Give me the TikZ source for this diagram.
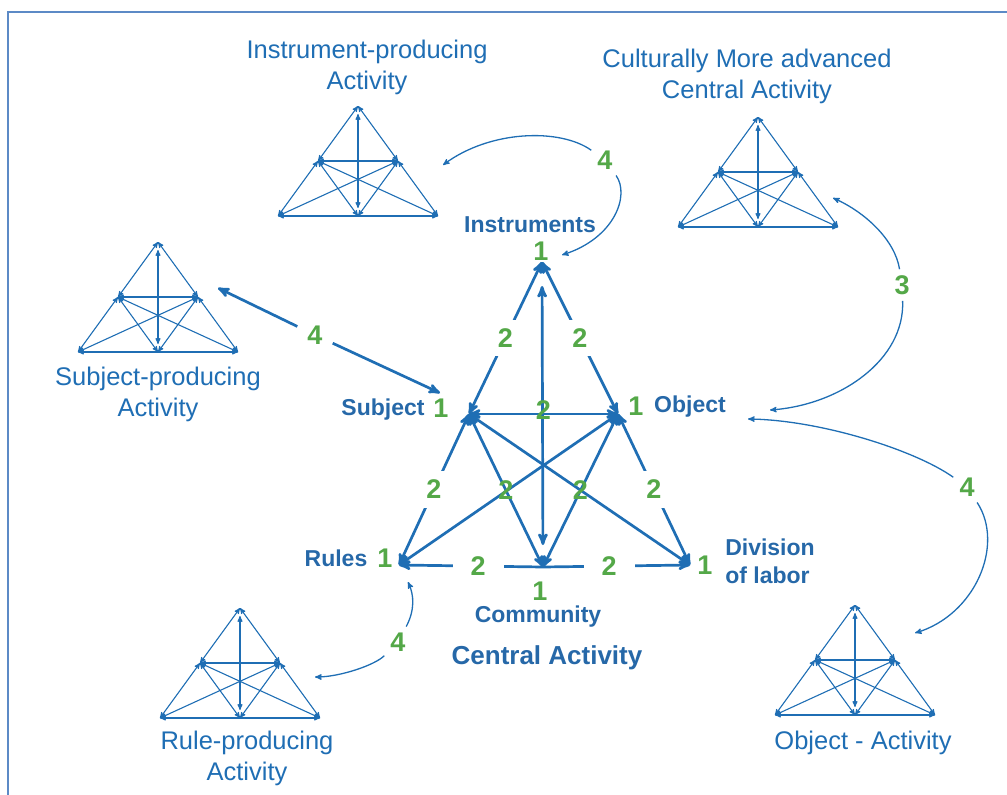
\documentclass[tikz,border=0pt]{standalone}
\usepackage{fontspec}
\setmainfont{Liberation Sans}
\usetikzlibrary{arrows}
\definecolor{actblue}{RGB}{31,110,180}
\definecolor{txtblue}{RGB}{38,104,168}
\definecolor{numgreen}{RGB}{84,168,72}
\definecolor{frameblue}{RGB}{92,138,198}

\tikzset{
  bigline/.style={actblue, line width=2.7pt, >=stealth'},
  thinline/.style={actblue, line width=1.1pt, >=stealth'},
  curvline/.style={actblue, line width=1.3pt, >=stealth'},
  num/.style={numgreen, font=\bfseries\fontsize{27}{27}\selectfont, inner sep=1pt},
  gapnum/.style={num, fill=white, inner sep=9pt},
  basenum/.style={num, fill=white, inner xsep=18pt, inner ysep=4pt},
  vlabel/.style={txtblue, font=\bfseries\fontsize{23}{28}\selectfont, align=left},
  alabel/.style={actblue, font=\fontsize{25.5}{31}\selectfont, align=center},
  minitri/.pic={
    \coordinate (-top) at (0,0);
    \coordinate (-l) at (-40,55);
    \coordinate (-r) at (40,55);
    \coordinate (-bl) at (-80,110);
    \coordinate (-bm) at (0,110);
    \coordinate (-br) at (80,110);
    \draw[thinline,<->] (-top) -- (-l);
    \draw[thinline,<->] (-top) -- (-r);
    \draw[thinline,<->] (-l) -- (-bl);
    \draw[thinline,<->] (-r) -- (-br);
    \draw[thinline,<->] (-l) -- (-r);
    \draw[thinline,<->] (-bl) -- (-br);
    \draw[thinline,<->] (-l) -- (-bm);
    \draw[thinline,<->] (-r) -- (-bm);
    \draw[thinline,<->] (-l) -- (-br);
    \draw[thinline,<->] (-r) -- (-bl);
    \draw[thinline,<->,shorten <=8pt,shorten >=8pt] (-top) -- (-bm);
  }
}

\begin{document}
\begin{tikzpicture}[x=1pt, y=-1pt]
\useasboundingbox (0,0) rectangle (1007,795);
\draw[frameblue, line width=1.5pt] (1007,12) -- (8,12) -- (8,795);

% central activity
\coordinate (ins) at (542,262);
\coordinate (sub) at (469,414);
\coordinate (obj) at (618,414);
\coordinate (rul) at (399,565);
\coordinate (div) at (690,565);
\coordinate (com) at (543,567);

\draw[bigline,<->,shorten <=24pt,shorten >=22pt] (ins) -- (com);
\draw[bigline,<->] (sub) -- (div);
\draw[bigline,<->] (obj) -- (rul);
\draw[bigline,<->] (sub) -- node[num]{2} (com);
\draw[bigline,<->] (obj) -- node[num]{2} (com);
\draw[bigline,<->] (sub) -- node[num, yshift=4pt]{2} (obj);
\draw[bigline,<->] (ins) -- node[gapnum]{2} (sub);
\draw[bigline,<->] (ins) -- node[gapnum]{2} (obj);
\draw[bigline,<->] (sub) -- node[gapnum]{2} (rul);
\draw[bigline,<->] (obj) -- node[gapnum]{2} (div);
\draw[bigline,->] (com) -- node[basenum, pos=.45]{2} (rul);
\draw[bigline,->] (com) -- node[basenum, pos=.45]{2} (div);

\node[num] (nins) at (541,251) {1};
\node[num] (nsub) at (441,408) {1};
\node[num] (nobj) at (636,406) {1};
\node[num] (nrul) at (385,558) {1};
\node[num] (ndiv) at (705,565) {1};
\node[num] (ncom) at (540,591) {1};

\node[vlabel] (tins) at (530,225) {Instruments};
\node[vlabel] (tsub) at (383,410) {Subject};
\node[vlabel] (tobj) at (690,407) {Object};
\node[vlabel] (trul) at (336,558) {Rules};
\node[vlabel] (tdiv) at (770,561) {Division\\of labor};
\node[vlabel] (tcom) at (538,617) {Community};
\node[vlabel, font=\bfseries\fontsize{26}{30}\selectfont] (tcen) at (547,658) {Central Activity};

% surrounding activities
\foreach \nm/\px/\py in {instr/358/106, cult/758/117, subj/158/242, rule/240/608, objac/855/605}
  \pic (\nm) at (\px,\py) {minitri};

\node[alabel] (linstr) at (367,67) {Instrument-producing\\Activity};
\node[alabel] (lcult) at (747,76) {Culturally More advanced\\Central Activity};
\node[alabel] (lsubj) at (158,394) {Subject-producing\\Activity};
\node[alabel] (lrule) at (247,758) {Rule-producing\\Activity};
\node[alabel] (lobjac) at (863,743) {Object - Activity};

% links
\node[num, inner sep=6pt] (f4ins) at (605,160) {4};
\coordinate (insin) at (443,165);
\coordinate (insend) at (562,255);
\draw[curvline,->] (f4ins) .. controls (560,128) and (490,130) .. (insin);
\draw[curvline,->] (f4ins) .. controls (630,195) and (615,238) .. (insend);

\node[num, inner sep=6pt] (f3cult) at (902,285) {3};
\coordinate (cultin) at (833,198);
\coordinate (cultend) at (770,410);
\draw[curvline,->] (f3cult) .. controls (895,240) and (865,212) .. (cultin);
\draw[curvline,->] (f3cult) .. controls (905,360) and (840,405) .. (cultend);

\node[num, inner sep=6pt] (f4obj) at (967,487) {4};
\coordinate (objin) at (748,419);
\coordinate (objend) at (915,633);
\draw[curvline,->] (f4obj) .. controls (915,450) and (820,420) .. (objin);
\draw[curvline,->] (f4obj) .. controls (1005,545) and (975,615) .. (objend);

\node[num, inner sep=6pt] (f4rul) at (398,642) {4};
\coordinate (rulin) at (408,582);
\coordinate (rulend) at (315,677);
\draw[curvline,->] (f4rul) .. controls (415,610) and (414,595) .. (rulin);
\draw[curvline,->] (f4rul) .. controls (375,665) and (340,677) .. (rulend);

\node[num, inner sep=10pt] (f4sub) at (315,335) {4};
\coordinate (subin) at (218,288);
\coordinate (subend) at (440,393);
\draw[bigline,->] (f4sub) -- (subin);
\draw[bigline,->] (f4sub) -- (subend);
\end{tikzpicture}
\end{document}
